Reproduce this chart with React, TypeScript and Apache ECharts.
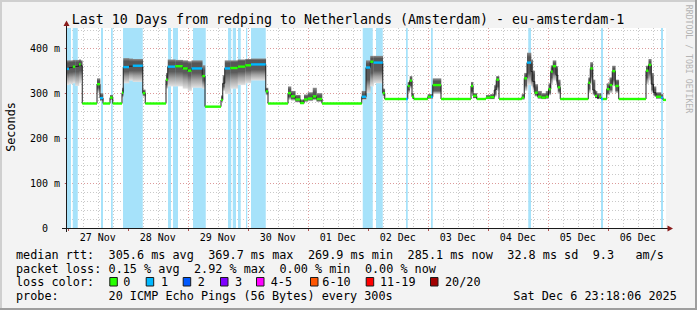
import React, { useEffect, useRef } from 'react';
import * as echarts from 'echarts';

const MONO = '"DejaVu Sans Mono", "Liberation Mono", monospace';

// ---------- data (hours are measured from 27 Nov 00:00) ----------
const titleText = 'Last 10 Days from redping to Netherlands (Amsterdam) - eu-amsterdam-1';
const X_MIN = -0.7; // 26 Nov 23:18
const X_MAX = 239.3; // 06 Dec 23:18
const Y_MAX = 445;

const dayLabels = ['27 Nov', '28 Nov', '29 Nov', '30 Nov', '01 Dec', '02 Dec', '03 Dec', '04 Dec', '05 Dec', '06 Dec'];
const dayLabelHours = [12, 36, 60, 84, 108, 132, 156, 180, 204, 228];
const midnightHours = [0, 24, 48, 72, 96, 120, 144, 168, 192, 216];
const yLabelValues = [0, 100, 200, 300, 400];

// packet-loss background bands [start h, end h]
const lossBands: [number, number][] = [
  [-0.7, 1.3], [2.0, 4.0], [13.3, 14.1], [17.3, 18.0], [22.1, 30.0],
  [40.1, 41.3], [42.1, 44.1], [50.1, 55.2], [64.1, 65.4], [66.0, 67.3],
  [68.1, 69.2], [71.3, 71.8], [73.3, 79.2], [118.0, 122.0], [123.3, 126.0],
  [135.3, 136.0], [145.3, 146.0], [184.2, 185.3], [213.3, 214.1], [237.3, 238.1],
];

// median rtt steps: [start h, end h, median ms, loss class (-1 = none drawn)]
const medianSteps: [number, number, number, number][] = [
  [-0.7, 0.5, 354, 1], [0.5, 2.0, 357, -1], [2.0, 3.0, 359, 0], [3.0, 4.5, 360, -1],
  [4.5, 5.2, 364, 0], [5.2, 5.8, 361, -1], [5.8, 11.7, 277, 0], [11.7, 12.9, 320, 0],
  [12.9, 14.1, 289, 1], [14.1, 16.9, 277, 0], [16.9, 18.0, 290, 0], [18.0, 21.7, 277, 0],
  [21.7, 22.2, 301, 0], [22.2, 24.5, 358, 1], [24.5, 26.0, 360, -1], [26.0, 30.0, 361, 1],
  [30.0, 31.0, 300, 0], [31.0, 39.3, 277, 0], [39.3, 40.0, 330, 0], [40.0, 43.0, 359, 1],
  [43.0, 46.0, 360, 0], [46.0, 48.0, 355, 0], [48.0, 49.5, 350, 0], [49.5, 53.8, 355, 1],
  [53.8, 54.9, 338, 0], [54.9, 61.3, 270, 0], [61.3, 62.0, 285, 0], [62.0, 62.8, 322, -1],
  [62.8, 65.0, 355, 1], [65.0, 68.0, 356, 0], [68.0, 71.0, 359, 0], [71.0, 73.3, 362, 0],
  [73.3, 79.2, 364, 1], [79.2, 80.1, 304, 0], [80.1, 88.1, 277, 0], [88.1, 89.3, 300, 0],
  [89.3, 91.0, 293, 0], [91.0, 93.0, 286, 0], [93.0, 94.5, 278, 0], [94.5, 96.0, 286, 0],
  [96.0, 98.0, 288, 0], [98.0, 99.5, 293, 0], [99.5, 101.7, 287, 0], [101.7, 117.6, 277, 0],
  [117.6, 119.3, 292, 1], [119.3, 121.0, 357, 1], [121.0, 122.3, 370, 0], [122.3, 126.0, 368, 1],
  [126.0, 126.8, 300, 0], [126.8, 135.3, 287, 0], [135.3, 136.0, 287, 1], [136.0, 136.8, 316, 0],
  [136.8, 137.7, 328, 0], [137.7, 138.4, 292, 0], [138.4, 144.0, 287, 0], [144.0, 145.3, 292, 0],
  [145.3, 146.0, 292, 1], [146.0, 149.3, 318, 0], [149.3, 161.3, 287, 0], [161.3, 162.1, 316, 0],
  [162.1, 163.6, 294, 0], [163.6, 167.3, 287, 0], [167.3, 169.0, 290, 0], [169.0, 170.6, 291, 0],
  [170.6, 171.4, 307, -1], [171.4, 172.5, 330, 0], [172.5, 181.6, 287, 0], [181.6, 182.6, 290, 0],
  [182.6, 183.7, 333, 0], [183.7, 185.3, 368, 1], [185.3, 186.0, 348, -1], [186.0, 186.8, 326, -1],
  [186.8, 188.0, 301, 0], [188.0, 189.5, 292, 0], [189.5, 191.2, 290, 0], [191.2, 192.3, 292, 0],
  [192.3, 193.2, 309, 0], [193.2, 194.0, 348, 0], [194.0, 195.3, 360, 0], [195.3, 196.0, 340, -1],
  [196.0, 197.0, 313, 0], [197.0, 208.2, 287, 0], [208.2, 209.0, 323, 0], [209.0, 210.0, 355, 0],
  [210.0, 210.9, 307, -1], [210.9, 211.7, 294, 0], [211.7, 212.6, 290, -1], [212.6, 213.3, 292, 0],
  [213.3, 214.1, 287, 1], [214.1, 215.6, 287, 0], [215.6, 216.7, 309, 0], [216.7, 217.8, 318, 0],
  [217.8, 219.0, 349, 0], [219.0, 220.4, 316, 0], [220.4, 231.3, 287, 0], [231.3, 232.3, 350, 0],
  [232.3, 233.4, 363, 0], [233.4, 234.3, 320, -1], [234.3, 235.3, 301, -1], [235.3, 237.3, 292, 0],
  [237.3, 238.1, 290, 1], [238.1, 239.3, 285, 0],
];

// smoke per step: [outer low, outer high, core low, core high] (null = no smoke)
const smokeRanges: ([number, number, number, number] | null)[] = [
  [318, 373, 345, 367], [320, 373, 347, 368], [322, 374, 348, 369], [316, 374, 348, 369],
  [322, 375, 350, 371], [328, 373, 350, 369], null, [300, 333, 312, 327],
  [282, 300, 285, 295], null, [284, 296, 287, 293], null,
  [290, 312, 296, 306], [322, 378, 348, 371], [328, 377, 350, 370], [325, 376, 350, 370],
  [292, 308, 296, 304], null, [310, 345, 320, 338], [315, 375, 348, 369],
  [315, 374, 348, 369], [310, 373, 345, 367], [305, 371, 340, 365], [312, 373, 345, 367],
  [310, 362, 328, 351], null, [280, 295, 283, 290], [305, 340, 315, 332],
  [298, 373, 345, 367], [310, 373, 346, 368], [318, 375, 348, 371], [322, 376, 350, 373],
  [328, 377, 352, 373], [295, 312, 300, 308], null, [285, 315, 292, 308],
  [283, 305, 288, 300], [279, 296, 282, 292], [276, 286, 277, 282], [280, 297, 283, 292],
  [282, 302, 285, 296], [284, 312, 288, 302], [280, 300, 283, 294], null,
  [285, 305, 288, 298], [300, 373, 330, 365], [315, 383, 345, 377], [322, 383, 350, 377],
  [292, 310, 296, 305], null, null, [300, 325, 308, 322],
  [310, 338, 318, 334], [287, 300, 289, 296], null, [287, 298, 289, 295],
  [287, 298, 289, 295], [298, 333, 305, 326], null, [298, 325, 305, 320],
  [288, 300, 290, 297], null, [286, 296, 288, 293], [286, 298, 288, 294],
  [292, 318, 298, 314], [305, 338, 315, 335], null, [285, 298, 287, 294],
  [305, 345, 318, 340], [318, 390, 345, 380], [315, 375, 330, 362], [305, 350, 315, 340],
  [292, 320, 296, 312], [287, 305, 289, 298], [286, 300, 288, 295], [287, 305, 289, 298],
  [295, 322, 300, 316], [320, 362, 335, 355], [328, 373, 345, 367], [318, 360, 328, 352],
  [298, 330, 305, 322], null, [300, 335, 310, 330], [318, 369, 338, 362],
  [295, 330, 300, 320], [288, 305, 290, 300], [286, 300, 288, 295], [287, 300, 289, 296],
  null, null, [295, 322, 300, 316], [300, 335, 308, 328],
  [315, 361, 330, 355], [300, 330, 306, 325], null, [320, 361, 335, 356],
  [328, 376, 345, 370], [300, 345, 308, 335], [292, 315, 296, 308], [287, 302, 289, 298],
  [287, 298, 288, 294], null,
];

// legend text
const statLine1: [string, number][] = [
  ['median rtt:', 0], ['305.6 ms avg', 13], ['369.7 ms max', 27], ['269.9 ms min', 41],
  ['285.1 ms now', 55], ['32.8 ms sd', 69], ['9.3', 81], ['am/s', 87],
];
const statLine2: [string, number][] = [
  ['packet loss:', 0], ['0.15 % avg', 13], ['2.92 % max', 25], ['0.00 % min', 37], ['0.00 % now', 49],
];
const lossLegendLabels = ['0', '1', '2', '3', '4-5', '6-10', '11-19', '20/20'];
const lossLegendColors = ['#26ff00', '#00b8ff', '#0059ff', '#7e00ff', '#ff00ff', '#ff5500', '#ff0000', '#a10000'];
const probeText = '20 ICMP Echo Pings (56 Bytes) every 300s';
const stampParts = ['Sat Dec', '6 23:18:06 2025'];

// ---------- styling ----------
const LOSS_LINE_COLORS: Record<number, string> = { 0: '#26ff00', 1: '#00b8ff' };
const BAND_COLOR = '#a6e2fa';
const MINOR_GRID = '#c9c9c9';
const MAJOR_GRID = '#dc9a9a';
const CHAR_W = 7.12;
const LEG_X0 = 16;
const swatchX = [109.3, 145.7, 182.7, 220, 256, 310, 365.7, 430];
const swatchLabelX = [123.3, 161, 197.7, 235, 270.7, 322.3, 380, 445];

function buildOption(): any {
  const gridHours: number[] = [];
  for (let h = 0; h <= X_MAX; h += 6) gridHours.push(h);
  const gridValues: number[] = [];
  for (let v = 20; v < Y_MAX; v += 20) gridValues.push(v);

  const txt = (text: string, x: number, y: number, size: number, extra: any = {}) => ({
    type: 'text',
    x,
    y,
    silent: true,
    ...extra,
    style: {
      text,
      font: `${size}px ${MONO}`,
      fill: '#000',
      align: 'left',
      verticalAlign: 'middle',
      textAlign: 'left',
      textVerticalAlign: 'middle',
      ...(extra.style || {}),
    },
  });

  const graphic: any[] = [
    // frame
    { type: 'rect', shape: { x: 0, y: 0, width: 697, height: 2 }, style: { fill: '#cfcfcf' }, silent: true },
    { type: 'rect', shape: { x: 0, y: 0, width: 2, height: 310 }, style: { fill: '#cfcfcf' }, silent: true },
    { type: 'rect', shape: { x: 0, y: 308, width: 697, height: 2 }, style: { fill: '#9e9e9e' }, silent: true },
    { type: 'rect', shape: { x: 695, y: 0, width: 2, height: 310 }, style: { fill: '#9e9e9e' }, silent: true },
    // axis lines (extending slightly past the plot) and arrows
    { type: 'line', shape: { x1: 62, y1: 228.5, x2: 668, y2: 228.5 }, style: { stroke: '#1a1a1a', lineWidth: 1 }, silent: true, z: 50 },
    { type: 'line', shape: { x1: 66.5, y1: 232, x2: 66.5, y2: 25 }, style: { stroke: '#1a1a1a', lineWidth: 1 }, silent: true, z: 50 },
    { type: 'polygon', shape: { points: [[63.5, 26], [69.5, 26], [66.5, 20.5]] }, style: { fill: '#8a1c1c' }, silent: true, z: 51 },
    { type: 'polygon', shape: { points: [[667.5, 225.5], [667.5, 231.5], [673, 228.5]] }, style: { fill: '#8a1c1c' }, silent: true, z: 51 },
    // title and side texts
    txt(titleText, 348, 19, 13.3, { style: { align: 'center', textAlign: 'center' } }),
    txt('Seconds', 10.5, 127, 11.8, { rotation: Math.PI / 2, style: { align: 'center', textAlign: 'center' } }),
    txt('RRDTOOL / TOBI OETIKER', 688.5, 59, 8.2, { rotation: -Math.PI / 2, style: { align: 'center', textAlign: 'center', fill: '#b4b4b4' } }),
  ];

  statLine1.forEach(([t, c]) => graphic.push(txt(t, LEG_X0 + c * CHAR_W, 254.5, 11.8)));
  statLine2.forEach(([t, c]) => graphic.push(txt(t, LEG_X0 + c * CHAR_W, 268.5, 11.8)));
  graphic.push(txt('loss color:', LEG_X0, 282, 11.8));
  lossLegendLabels.forEach((lab, i) => {
    graphic.push({
      type: 'rect',
      shape: { x: swatchX[i] + 0.5, y: 277.5, width: 7.5, height: 8.5 },
      style: { fill: lossLegendColors[i], stroke: '#1a1a1a', lineWidth: 1 },
      silent: true,
    });
    graphic.push(txt(lab, swatchLabelX[i], 282, 11.8));
  });
  graphic.push(txt('probe:', LEG_X0, 296, 11.8));
  graphic.push(txt(probeText, LEG_X0 + 13 * CHAR_W, 296, 11.8));
  graphic.push(txt(stampParts[0], 513.3, 296, 11.8));
  graphic.push(txt(stampParts[1], 513.3 + 8 * CHAR_W, 296, 11.8));

  const medianLine: number[][] = medianSteps.map((s) => [s[0], s[2]]);
  const last = medianSteps[medianSteps.length - 1];
  medianLine.push([last[1], last[2]]);

  const smokeData = medianSteps
    .map((s, i) => (smokeRanges[i] ? [s[0], s[1], ...(smokeRanges[i] as number[])] : null))
    .filter((d) => d !== null);

  return {
    animation: false,
    backgroundColor: '#f3f3f3',
    grid: { left: 66, top: 28, width: 600, height: 200, show: true, backgroundColor: '#ffffff', borderWidth: 0 },
    xAxis: {
      type: 'value',
      min: X_MIN,
      max: X_MAX,
      axisLine: { show: false },
      axisTick: { show: true, customValues: midnightHours, length: 3, lineStyle: { color: '#b05050' } },
      axisLabel: {
        customValues: dayLabelHours,
        formatter: (v: number) => {
          const i = dayLabelHours.indexOf(Math.round(v));
          return i >= 0 ? dayLabels[i] : '';
        },
        fontFamily: MONO,
        fontSize: 10,
        color: '#000',
        margin: 4,
      },
      splitLine: { show: false },
    },
    yAxis: {
      type: 'value',
      min: 0,
      max: Y_MAX,
      interval: 100,
      axisLine: { show: false },
      axisTick: { show: true, customValues: yLabelValues, length: 3, lineStyle: { color: '#b05050' } },
      axisLabel: {
        customValues: yLabelValues,
        formatter: (v: number) => (v === 0 ? '{z|0}' : `${v} m`),
        rich: { z: { fontFamily: MONO, fontSize: 10, color: '#000', padding: [0, 12, 0, 0] } },
        fontFamily: MONO,
        fontSize: 10,
        color: '#000',
        margin: 6,
      },
      splitLine: { show: false },
    },
    series: [
      {
        name: 'vgrid',
        type: 'custom',
        silent: true,
        z: 1,
        data: gridHours.map((h) => [h, 0, h % 24 === 0 ? 1 : 0]),
        encode: { x: 0, y: 1 },
        renderItem: (params: any, api: any) => {
          const cs = params.coordSys;
          const x = Math.round(api.coord([api.value(0), 0])[0]) + 0.5;
          return {
            type: 'line',
            shape: { x1: x, y1: cs.y, x2: x, y2: cs.y + cs.height },
            style: { stroke: api.value(2) ? MAJOR_GRID : MINOR_GRID, lineWidth: 1, lineDash: [1, 2] },
          };
        },
      },
      {
        name: 'hgrid',
        type: 'custom',
        silent: true,
        z: 1,
        data: gridValues.map((v) => [X_MIN, v, v % 100 === 0 ? 1 : 0]),
        encode: { x: 0, y: 1 },
        renderItem: (params: any, api: any) => {
          const cs = params.coordSys;
          const y = Math.round(api.coord([X_MIN, api.value(1)])[1]) + 0.5;
          return {
            type: 'line',
            shape: { x1: cs.x, y1: y, x2: cs.x + cs.width, y2: y },
            style: { stroke: api.value(2) ? MAJOR_GRID : MINOR_GRID, lineWidth: 1, lineDash: [1, 2] },
          };
        },
      },
      {
        name: 'loss bands',
        type: 'custom',
        silent: true,
        z: 2,
        data: lossBands.map((b) => [b[0], b[1], 0]),
        encode: { x: [0, 1], y: 2 },
        renderItem: (params: any, api: any) => {
          const cs = params.coordSys;
          const x0 = api.coord([api.value(0), 0])[0];
          const x1 = api.coord([api.value(1), 0])[0];
          return {
            type: 'rect',
            shape: { x: x0, y: cs.y, width: x1 - x0, height: cs.height },
            style: { fill: BAND_COLOR },
          };
        },
      },
      {
        name: 'smoke',
        type: 'custom',
        silent: true,
        z: 3,
        data: smokeData,
        encode: { x: [0, 1], y: [2, 3] },
        renderItem: (params: any, api: any) => {
          const x0 = api.coord([api.value(0), 0])[0];
          const x1 = api.coord([api.value(1), 0])[0];
          const yLo = api.coord([0, api.value(2)])[1];
          const yHi = api.coord([0, api.value(3)])[1];
          const cLo = api.coord([0, api.value(4)])[1];
          const cHi = api.coord([0, api.value(5)])[1];
          const h = Math.max(yLo - yHi, 0.01);
          const oTop = Math.min(Math.max((cHi - yHi) / h, 0), 1);
          const oBot = Math.min(Math.max((cLo - yHi) / h, oTop), 1);
          const fill = {
            type: 'linear', x: 0, y: 0, x2: 0, y2: 1,
            colorStops: [
              { offset: 0, color: '#8c8c8c' },
              { offset: oTop, color: '#555555' },
              { offset: oBot, color: '#5c5c5c' },
              { offset: oBot + (1 - oBot) * 0.45, color: '#a2a2a2' },
              { offset: 1, color: '#e2e2e2' },
            ],
          };
          return {
            type: 'rect',
            shape: { x: x0, y: yHi, width: x1 - x0 + 0.3, height: h },
            style: { fill },
          };
        },
      },
      {
        name: 'median',
        type: 'line',
        step: 'end',
        silent: true,
        z: 4,
        symbol: 'none',
        data: medianLine,
        lineStyle: { color: '#202020', width: 1 },
      },
      {
        name: 'median loss colour',
        type: 'custom',
        silent: true,
        z: 5,
        data: medianSteps.map((s) => [s[0], s[1], s[2], s[3]]),
        encode: { x: [0, 1], y: 2 },
        renderItem: (params: any, api: any) => {
          const loss = api.value(3);
          const color = LOSS_LINE_COLORS[loss];
          if (!color) return { type: 'group', children: [] };
          const x0 = api.coord([api.value(0), 0])[0];
          const x1 = api.coord([api.value(1), 0])[0];
          const y = api.coord([0, api.value(2)])[1];
          return {
            type: 'rect',
            shape: { x: x0, y: y - 1.2, width: x1 - x0, height: 2.4 },
            style: { fill: color },
          };
        },
      },
    ],
    graphic,
  };
}

export default function App() {
  const ref = useRef<HTMLDivElement>(null);
  useEffect(() => {
    if (!ref.current) return;
    const chart = echarts.init(ref.current, undefined, { renderer: 'svg' });
    chart.setOption(buildOption());
    return () => chart.dispose();
  }, []);
  return <div ref={ref} style={{ position: 'fixed', left: 0, top: 0, width: 697, height: 310 }} />;
}
